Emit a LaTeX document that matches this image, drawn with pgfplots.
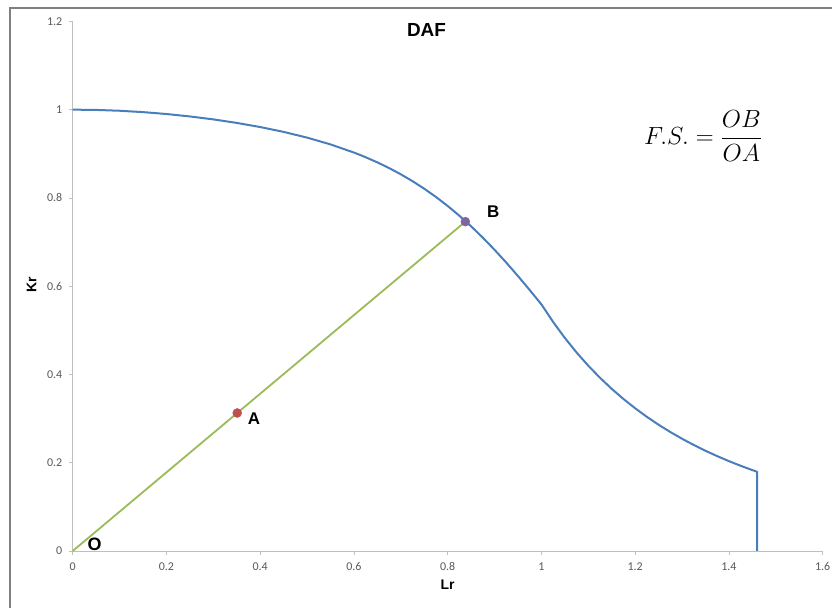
\documentclass[border=0pt]{standalone}
\usepackage{fontspec}
\setmainfont{Liberation Sans}
\newfontfamily\tickfont{Carlito}
\usepackage{pgfplots}
\pgfplotsset{compat=1.18}
\definecolor{exblue}{HTML}{4A7EBB}
\definecolor{exgreen}{HTML}{9BBB59}
\definecolor{exred}{HTML}{C0504D}
\definecolor{expurple}{HTML}{8064A2}
\definecolor{axgray}{HTML}{BFBFBF}
\definecolor{tkgray}{HTML}{595959}
\begin{document}
\begin{tikzpicture}[x=1bp,y=1bp]
\useasboundingbox (0,0) rectangle (832,608);
\fill[white] (0,0) rectangle (832,608);
\draw[color=gray, line width=1.1bp] (10,-5) -- (10,600) -- (840,600);
\begin{axis}[
  at={(72.7bp,57bp)}, anchor=south west,
  scale only axis, width=750bp, height=529.6bp,
  xmin=0, xmax=1.6, ymin=0, ymax=1.2,
  axis x line*=bottom, axis y line*=left,
  axis line style={axgray, line width=0.8bp, -},
  xtick={0,0.2,0.4,0.6,0.8,1,1.2,1.4,1.6},
  ytick={0,0.2,0.4,0.6,0.8,1,1.2},
  tick align=outside, major tick length=4bp,
  tick style={axgray, line width=0.8bp},
  ticklabel style={font=\tickfont\fontsize{12}{14}\selectfont, text=tkgray},
  /pgf/number format/assume math mode=true,
  xticklabel style={yshift=-4bp},
  yticklabel style={xshift=-3bp},
  clip=false,
]
\addplot[exblue, line width=2bp, line join=round] coordinates {
(0,1.00000) (0.05,0.99938) (0.1,0.99751) (0.15,0.99442) (0.2,0.99012)
(0.25,0.98463) (0.3,0.97793) (0.35,0.96996) (0.4,0.96060) (0.45,0.94961)
(0.5,0.93665) (0.55,0.92126) (0.6,0.90279) (0.625,0.89217) (0.65,0.88049)
(0.675,0.86762) (0.7,0.85346) (0.725,0.83790) (0.75,0.82082) (0.775,0.80212)
(0.8,0.78172) (0.825,0.75955) (0.85,0.73560) (0.875,0.70985) (0.9,0.68240)
(0.925,0.65334) (0.95,0.62285) (0.975,0.59118) (1.0,0.55862) (1.025,0.51873)
(1.05,0.48256) (1.075,0.44967) (1.1,0.41970) (1.125,0.39233) (1.15,0.36730)
(1.175,0.34435) (1.2,0.32327) (1.225,0.30389) (1.25,0.28601) (1.275,0.26952)
(1.3,0.25426) (1.325,0.24014) (1.35,0.22705) (1.375,0.21488) (1.4,0.20358)
(1.425,0.19305) (1.45,0.18323) (1.46,0.17950) (1.46,0)
};
\addplot[exgreen, line width=1.8bp] coordinates {(0,0) (0.8376,0.7462)};
\addplot[only marks, mark=*, mark size=4.5bp, color=exred] coordinates {(0.351,0.3127)};
\addplot[only marks, mark=*, mark size=4.5bp, color=expurple] coordinates {(0.8376,0.7462)};
\end{axis}
\node[font=\bfseries\fontsize{19}{22}\selectfont] at (426.5,577.7) {DAF};
\node[font=\bfseries\fontsize{17}{20}\selectfont] at (493.3,396.3) {B};
\node[font=\bfseries\fontsize{17}{20}\selectfont] at (254,189.2) {A};
\node[font=\bfseries\fontsize{18}{20}\selectfont] at (94.5,63.3) {O};
\node[font=\bfseries\fontsize{14}{16}\selectfont] at (447.5,23) {Lr};
\node[font=\bfseries\fontsize{14}{16}\selectfont, rotate=90] at (31.7,323) {Kr};
\node[font=\fontsize{27}{31}\selectfont] at (703,472) {$\displaystyle F.S. = \frac{OB}{OA}$};
\end{tikzpicture}
\end{document}
